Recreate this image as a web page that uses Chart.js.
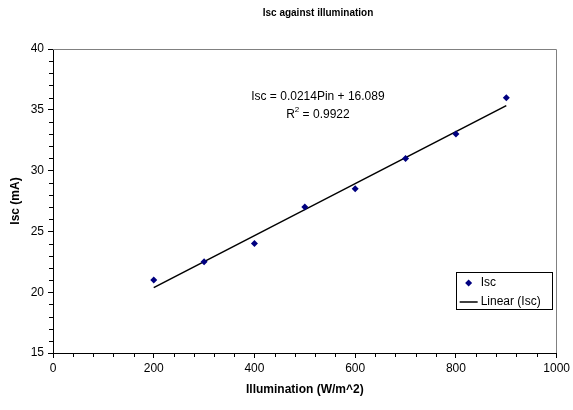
<!DOCTYPE html>
<html>
<head>
<meta charset="utf-8">
<script src="https://cdn.jsdelivr.net/npm/chart.js@4"></script>
<style>
  html, body { margin: 0; padding: 0; background: #fff; }
  #wrap { width: 573px; height: 410px; }
</style>
</head>
<body>
<div id="wrap"><canvas id="myChart"></canvas></div>
<script>
const illumination = [200, 300, 400, 500, 600, 700, 800, 900];
const isc = [21, 22.5, 24, 27, 28.5, 31, 33, 36];
// trendline end points (Isc = 0.0214Pin + 16.089)
const trendX = [200, 900];
const trendY = [20.37, 35.35];
const xTicks = [0, 200, 400, 600, 800, 1000];
const yTicks = [15, 20, 25, 30, 35, 40];
const chartTitle = 'Isc against illumination';
const equationLines = ['Isc = 0.0214Pin + 16.089', 'R', '2', ' = 0.9922'];

const FONT = "'Liberation Sans', Arial, sans-serif";
const ctx = document.getElementById('myChart');

// grey top/right frame, minor ticks, title
const framePlugin = {
  id: 'frame',
  afterDraw(chart) {
    const c = chart.ctx, a = chart.chartArea;
    const xs = chart.scales.x, ys = chart.scales.y;
    c.save();
    c.strokeStyle = '#808080';
    c.lineWidth = 1;
    const t = Math.round(a.top) + 0.5, r = Math.round(a.right) - 0.5;
    c.beginPath();
    c.moveTo(a.left, t); c.lineTo(r, t); c.lineTo(r, a.bottom);
    c.stroke();
    c.strokeStyle = '#000';
    c.beginPath();
    for (let v = 40; v < 1000; v += 40) {
      if (v % 200 === 0) continue;
      const px = Math.round(xs.getPixelForValue(v)) + 0.5;
      c.moveTo(px, a.bottom); c.lineTo(px, a.bottom + 4);
    }
    for (let v = 16; v < 40; v += 1) {
      if (v % 5 === 0) continue;
      const py = Math.round(ys.getPixelForValue(v)) + 0.5;
      c.moveTo(a.left, py); c.lineTo(a.left - 4, py);
    }
    c.stroke();
    c.fillStyle = '#000';
    c.font = 'bold 10px ' + FONT;
    c.textAlign = 'center';
    c.textBaseline = 'middle';
    c.fillText(chartTitle, 318, 13);
    c.restore();
  }
};

// equation text and legend box
const notePlugin = {
  id: 'notes',
  afterDraw(chart) {
    const c = chart.ctx, a = chart.chartArea;
    const xs = chart.scales.x, ys = chart.scales.y;
    c.save();
    c.fillStyle = '#000';
    c.font = '12px ' + FONT;
    c.textBaseline = 'middle';
    c.textAlign = 'center';
    const ex = xs.getPixelForValue(526);
    c.fillText(equationLines[0], ex, ys.getPixelForValue(36.07));
    // R^2 line
    const y2 = ys.getPixelForValue(34.6);
    const wR = c.measureText(equationLines[1]).width;
    const wRest = c.measureText(equationLines[3]).width;
    c.font = '8px ' + FONT;
    const wSup = c.measureText(equationLines[2]).width;
    let sx = ex - (wR + wSup + wRest) / 2;
    c.textAlign = 'left';
    c.font = '12px ' + FONT;
    c.fillText(equationLines[1], sx, y2);
    c.font = '8px ' + FONT;
    c.fillText(equationLines[2], sx + wR, y2 - 5);
    c.font = '12px ' + FONT;
    c.fillText(equationLines[3], sx + wR + wSup, y2);

    // legend
    const bx = a.right - 101, by = a.bottom - 81, bw = 96, bh = 37;
    c.fillStyle = '#fff';
    c.fillRect(bx, by, bw, bh);
    c.strokeStyle = '#000';
    c.lineWidth = 1;
    c.strokeRect(Math.round(bx) + 0.5, Math.round(by) + 0.5, bw, bh);
    c.fillStyle = '#000080';
    const dx = bx + 13, dy = by + 11;
    c.beginPath();
    c.moveTo(dx, dy - 3.5); c.lineTo(dx + 3.5, dy); c.lineTo(dx, dy + 3.5); c.lineTo(dx - 3.5, dy);
    c.closePath(); c.fill();
    c.beginPath();
    c.strokeStyle = '#000';
    c.lineWidth = 1.5;
    c.moveTo(bx + 4, by + 30); c.lineTo(bx + 22, by + 30);
    c.stroke();
    c.fillStyle = '#000';
    c.font = '12px ' + FONT;
    c.fillText('Isc', bx + 25, dy);
    c.fillText('Linear (Isc)', bx + 25, by + 30);
    c.restore();
  }
};

new Chart(ctx, {
  type: 'scatter',
  data: {
    datasets: [{
      label: 'Isc',
      data: illumination.map((x, i) => ({ x: x, y: isc[i] })),
      pointStyle: 'rectRot',
      pointRadius: 3.5,
      pointBackgroundColor: '#000080',
      pointBorderColor: '#000080',
      borderWidth: 0,
      order: 1
    }, {
      label: 'Linear (Isc)',
      type: 'line',
      data: trendX.map((x, i) => ({ x: x, y: trendY[i] })),
      borderColor: '#000',
      borderWidth: 1.5,
      pointRadius: 0,
      fill: false,
      order: 2
    }]
  },
  options: {
    responsive: true,
    maintainAspectRatio: false,
    animation: false,
    events: [],
    layout: { padding: { left: 0, right: 16, top: 49, bottom: 0 } },
    plugins: {
      legend: { display: false },
      tooltip: { enabled: false },
      title: { display: false }
    },
    scales: {
      x: {
        type: 'linear',
        min: 0, max: 1000,
        afterBuildTicks: s => { s.ticks = xTicks.map(v => ({ value: v })); },
        afterFit: s => { s.height = 57; },
        grid: { display: true, drawOnChartArea: false, color: '#000', tickLength: 5 },
        border: { color: '#000' },
        ticks: { color: '#000', font: { family: FONT, size: 12 }, padding: 3, maxRotation: 0,
          callback: v => String(v) },
        title: { display: true, text: 'Illumination (W/m^2)', color: '#000',
          font: { family: FONT, size: 12, weight: 'bold' }, padding: { top: 4, bottom: 13 } }
      },
      y: {
        type: 'linear',
        min: 15, max: 40,
        afterBuildTicks: s => { s.ticks = yTicks.map(v => ({ value: v })); },
        afterFit: s => { s.width = 53; },
        grid: { display: true, drawOnChartArea: false, color: '#000', tickLength: 5 },
        border: { color: '#000' },
        ticks: { color: '#000', font: { family: FONT, size: 12 }, padding: 4 },
        title: { display: true, text: 'Isc (mA)', color: '#000',
          font: { family: FONT, size: 12, weight: 'bold' }, padding: { top: 8, bottom: 0 } }
      }
    }
  },
  plugins: [framePlugin, notePlugin]
});
</script>
</body>
</html>
